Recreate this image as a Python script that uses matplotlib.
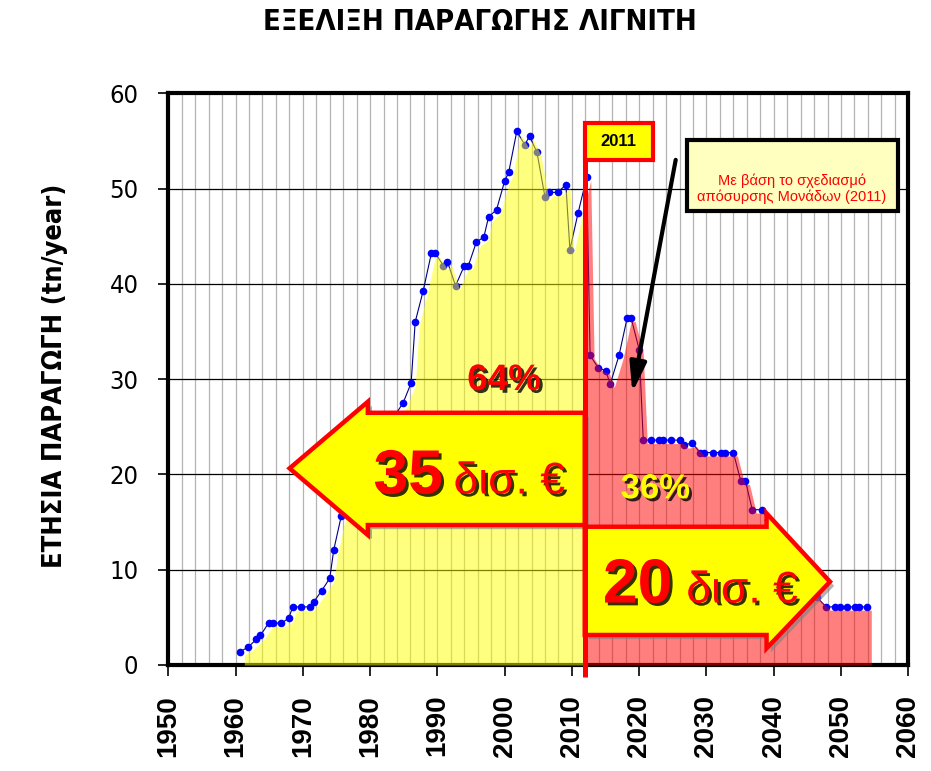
import matplotlib
matplotlib.use('Agg')
import numpy as np
import matplotlib.pyplot as plt
import matplotlib.patheffects as pe
from matplotlib.patches import Polygon, Rectangle
from matplotlib.ticker import MultipleLocator
from matplotlib import font_manager
from matplotlib.font_manager import FontProperties

# lignite production per year
years = [1960.7, 1961.9, 1963.1, 1963.7, 1964.9, 1965.6, 1966.8, 1967.9, 1968.5, 1969.7,
         1971.0, 1971.6, 1972.8, 1974.0, 1974.6, 1975.7, 1976.9, 1977.5, 1978.7, 1979.9,
         1980.5, 1981.7, 1982.9, 1983.5, 1984.9, 1986.1, 1986.7, 1987.9, 1989.1, 1989.7,
         1990.9, 1991.5, 1992.7, 1994.0, 1994.6, 1995.8, 1996.9, 1997.6, 1998.8, 2000.0,
         2000.6, 2001.8, 2003.0, 2003.7, 2004.8, 2006.0, 2006.6, 2007.9, 2009.1, 2009.7,
         2010.9, 2012.2, 2012.7, 2013.9, 2015.0, 2015.7, 2017.0, 2018.2, 2018.8, 2020.0,
         2020.6, 2021.8, 2022.9, 2023.5, 2024.8, 2026.0, 2026.7, 2027.9, 2029.0, 2029.6,
         2031.0, 2032.1, 2032.7, 2034.0, 2035.1, 2035.8, 2036.8, 2038.2, 2039.2, 2040.4,
         2041.0, 2042.2, 2043.4, 2044.0, 2045.2, 2046.4, 2047.8, 2049.1, 2049.9, 2050.9,
         2052.1, 2052.6, 2053.9]
production = [1.4, 1.9, 2.7, 3.1, 4.4, 4.4, 4.4, 4.9, 6.1, 6.1,
              6.1, 6.6, 7.8, 9.1, 12.1, 15.6, 17.2, 18.3, 19.6, 21.0,
              22.1, 23.4, 24.8, 26.0, 27.5, 29.6, 36.0, 39.3, 43.2, 43.2,
              41.9, 42.3, 39.8, 41.9, 41.9, 44.4, 44.9, 47.0, 47.8, 50.8,
              51.7, 56.0, 54.6, 55.5, 53.8, 49.1, 49.6, 49.6, 50.4, 43.6,
              47.4, 51.2, 32.5, 31.2, 30.9, 29.5, 32.5, 36.4, 36.4, 33.1,
              23.6, 23.6, 23.6, 23.6, 23.6, 23.6, 23.1, 23.3, 22.3, 22.3,
              22.3, 22.3, 22.3, 22.3, 19.3, 19.3, 16.3, 16.3, 15.2, 13.8,
              12.8, 11.4, 10.0, 9.2, 8.1, 7.1, 6.1, 6.1, 6.1, 6.1,
              6.1, 6.1, 6.1]
split_year = 2011.9
x_ticks = [1950, 1960, 1970, 1980, 1990, 2000, 2010, 2020, 2030, 2040, 2050, 2060]
y_ticks = [0, 10, 20, 30, 40, 50, 60]
share_before = '64%'
share_after = '36%'
cost_before = '35'
cost_after = '20'


def find_font(keys):
    # look for a narrow / condensed face among installed files
    for key in keys:
        for f in font_manager.fontManager.ttflist:
            if key.lower() in f.fname.lower().replace(' ', ''):
                return FontProperties(fname=f.fname)
    return None


narrow_bold = find_font(['LiberationSansNarrow-Bold.', 'NotoSans-CondensedBold.',
                         'DejaVuSansCondensed-Bold.']) or FontProperties(family='Liberation Sans', weight='bold')
narrow_reg = find_font(['LiberationSansNarrow-Regular.', 'NotoSans-Condensed.',
                        'DejaVuSansCondensed.']) or FontProperties(family='Liberation Sans')

plt.rcParams['font.family'] = ['Liberation Sans', 'DejaVu Sans']

fig = plt.figure(figsize=(9.31, 7.71), dpi=100)
ax = fig.add_axes([168.3 / 931, 1 - 665 / 771, 740 / 931, (665 - 93.3) / 771])
ax.set_xlim(1950, 2060)
ax.set_ylim(0, 60)

# grid
ax.set_axisbelow(True)
ax.set_xticks(x_ticks)
ax.set_xticklabels([str(v) for v in x_ticks], fontsize=20, fontweight='bold', rotation=90)
ax.set_yticks(y_ticks)
ax.set_yticklabels([str(v) for v in y_ticks], fontproperties=narrow_reg)
ax.xaxis.set_minor_locator(MultipleLocator(2))
ax.grid(axis='x', which='both', color='#b4b4b4', lw=0.9)
ax.grid(axis='y', which='major', color='black', lw=0.9)
for s in ax.spines.values():
    s.set_linewidth(3)
ax.tick_params(which='minor', length=0)
ax.tick_params(axis='x', which='major', length=8, width=1.2, pad=13.5)
ax.tick_params(axis='y', which='major', length=7.5, width=1.2, pad=14)

# points and line
x = np.array(years)
y = np.array(production)
ax.plot(x, y, color='#000080', lw=0.8, zorder=2)
ax.plot(x, y, 'o', color='#0000ff', ms=5.5, mec='none', zorder=2)

# area fill (translucent, on top of points)
area_l = ax.fill_between(x + 0.6, 0, y - 0.35, color='yellow', alpha=0.5, lw=0, zorder=3)
area_l.set_clip_path(Rectangle((1950, -5), split_year - 1950, 80, transform=ax.transData))
area_r = ax.fill_between(x + 0.6, 0, y - 0.35, color='red', alpha=0.5, lw=0, zorder=3)
area_r.set_clip_path(Rectangle((split_year, -5), 60, 80, transform=ax.transData))

# 2011 marker line and box
ax.plot([split_year, split_year], [-1.3, 53.0], color='red', lw=3.6, zorder=7,
        clip_on=False, solid_capstyle='butt')
ax.add_patch(Rectangle((split_year, 53.0), 2022.0 - split_year, 3.84, fc='yellow',
                       ec='red', lw=3, zorder=7))
ax.text((split_year + 2022.0) / 2, 54.9, '2011', ha='center', va='center',
        fontsize=12, fontweight='bold', zorder=8)

# note box
ax.add_patch(Rectangle((2027.05, 47.67), 31.45, 7.39, fc='#ffffc0', ec='black', lw=3, zorder=7))
ax.text(2042.7, 49.95, 'Με βάση το σχεδιασμό\nαπόσυρσης Μονάδων (2011)', ha='center',
        va='center', color='red', fontsize=10.5, linespacing=1.1, zorder=8)
ax.annotate('', xy=(2018.9, 28.3), xytext=(2025.5, 53.3),
            arrowprops=dict(arrowstyle='-|>,head_length=0.9,head_width=0.25', lw=3,
                            color='black', mutation_scale=20), zorder=8)

# big arrows
shadow = [pe.SimplePatchShadow(offset=(3, -3), shadow_rgbFace='gray', alpha=0.6), pe.Normal()]
left_arrow = [(1968.03, 20.64), (1979.66, 27.63), (1979.66, 26.47), (split_year, 26.47),
              (split_year, 14.69), (1979.66, 14.69), (1979.66, 13.64)]
right_arrow = [(split_year, 14.51), (2038.93, 14.51), (2038.93, 15.92), (2048.36, 8.74),
               (2038.93, 1.75), (2038.93, 3.15), (split_year, 3.15)]
for pts in (left_arrow, right_arrow):
    ax.add_patch(Polygon(pts, closed=True, fc='yellow', ec='red', lw=3.2, zorder=5,
                         joinstyle='miter', path_effects=shadow))

tshadow = [pe.SimplePatchShadow(offset=(2, -2), shadow_rgbFace='black', alpha=0.8), pe.Normal()]
ax.text(1980.5, 18.0, cost_before, color='red', fontsize=45, fontweight='bold',
        ha='left', va='baseline', zorder=6, path_effects=tshadow)
ax.text(1992.4, 18.0, 'δισ. €', color='red', fontsize=32, ha='left', va='baseline',
        zorder=6, path_effects=tshadow)
ax.text(2014.6, 6.55, cost_after, color='red', fontsize=45, fontweight='bold',
        ha='left', va='baseline', zorder=6, path_effects=tshadow)
ax.text(2027.0, 6.55, 'δισ. €', color='red', fontsize=32, ha='left', va='baseline',
        zorder=6, path_effects=tshadow)
ax.text(1999.9, 28.86, share_before, color='red', fontsize=26.5, fontweight='bold',
        ha='center', va='baseline', zorder=6, path_effects=tshadow)
ax.text(2022.4, 17.5, share_after, color='yellow', fontsize=25, fontweight='bold',
        ha='center', va='baseline', zorder=6, path_effects=tshadow)

# titles
title = fig.text(480 / 931, 1 - 22 / 771, 'ΕΞΕΛΙΞΗ ΠΑΡΑΓΩΓΗΣ ΛΙΓΝΙΤΗ', ha='center',
                 va='center', fontproperties=narrow_bold)
ylab = fig.text(55 / 931, 1 - 375.5 / 771, 'ΕΤΗΣΙΑ ΠΑΡΑΓΩΓΗ (tn/year)', ha='center',
                va='center', rotation=90, fontproperties=narrow_bold)

# size the narrow texts so they span the same length as in the original
renderer = fig.canvas.get_renderer()
for t, target, horiz in ((title, 434, True), (ylab, 385, False)):
    t.set_fontsize(20)
    bb = t.get_window_extent(renderer)
    size = bb.width if horiz else bb.height
    t.set_fontsize(min(20 * target / size, 27))
for lab in ax.get_yticklabels():
    lab.set_fontsize(20)
bb = ax.get_yticklabels()[-1].get_window_extent(renderer)
ytick_size = min(20 * 29 / bb.width, 21)
ax.set_yticklabels([str(v) for v in y_ticks], fontproperties=narrow_reg, fontsize=ytick_size)

fig.savefig('out.png', dpi=100)
